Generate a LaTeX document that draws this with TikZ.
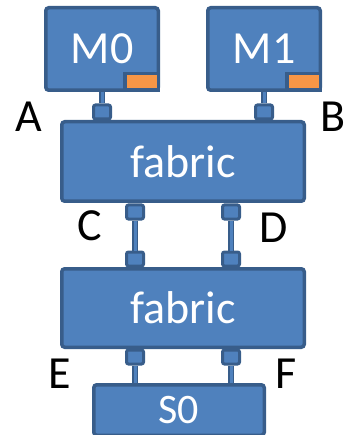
\documentclass[tikz,border=0pt]{standalone}
\usepackage{fontspec}
\setmainfont{Carlito}
\usepackage{tikz}
\usetikzlibrary{positioning}
\definecolor{boxfill}{HTML}{4F81BD}
\definecolor{boxline}{HTML}{385D8A}
\definecolor{tagfill}{HTML}{F79646}

\begin{document}
\begin{tikzpicture}[x=1pt, y=-1pt]
  \tikzstyle{blk}=[rectangle, rounded corners=3pt, draw=boxline, fill=boxfill,
                   line width=3.5pt, inner sep=0pt, text=white,
                   font=\fontsize{46}{46}\selectfont]
  \tikzstyle{tag}=[rectangle, draw=boxline, fill=tagfill, line width=3.5pt,
                   minimum width=33.5pt, minimum height=16.5pt, inner sep=0pt]
  \tikzstyle{port}=[rectangle, rounded corners=2pt, draw=boxline, fill=boxfill,
                   line width=3pt, minimum width=17pt, minimum height=14pt,
                   inner sep=0pt]
  \tikzstyle{link}=[draw=boxline, line width=1.4pt, double=boxfill,
                   double distance=3pt]
  \tikzstyle{lbl}=[inner sep=0pt, font=\fontsize{46}{46}\selectfont]

  \useasboundingbox (0,0) rectangle (345,435);

  % masters on top
  \node[blk, minimum width=112.5pt, minimum height=82.5pt] (m0) at (102,49) {M0};
  \node[blk, minimum width=112.5pt, minimum height=82.5pt, right=46pt of m0] (m1) {M1};
  \node[tag, anchor=south east] (m0tag) at (m0.south east) {};
  \node[tag, anchor=south east] (m1tag) at (m1.south east) {};

  % the two fabrics and the slave
  \node[blk, minimum width=242.5pt, minimum height=79.5pt] (fab1) at (183,161.5) {fabric};
  \node[blk, minimum width=242.5pt, minimum height=78.5pt] (fab2) at (183,308) {fabric};
  \node[blk, minimum width=170.5pt, minimum height=50.5pt,
        font=\fontsize{42}{42}\selectfont] (s0) at (179,410) {S0};

  % ports
  \node[port] (pa) at (102,112) {};
  \node[port] (pb) at (264,112) {};
  \node[port] (pc1) at (135,212) {};
  \node[port] (pd1) at (231,212) {};
  \node[port] (pc2) at (135,259) {};
  \node[port] (pd2) at (231,259) {};
  \node[port] (pe) at (135,357) {};
  \node[port] (pf) at (231,357) {};

  % wires between ports
  \draw[link] (m0) -- (pa);
  \draw[link] (m1) -- (pb);
  \draw[link] (pc1) -- (pc2);
  \draw[link] (pd1) -- (pd2);
  \draw[link] (pe) -- (pe |- s0.north);
  \draw[link] (pf) -- (pf |- s0.north);

  % port names
  \node[lbl] (la) at (29,117) {A};
  \node[lbl] (lb) at (333,117) {B};
  \node[lbl] (lc) at (90,226) {C};
  \node[lbl] (ld) at (274,228) {D};
  \node[lbl] (le) at (60,374) {E};
  \node[lbl] (lf) at (286,374) {F};
\end{tikzpicture}
\end{document}
